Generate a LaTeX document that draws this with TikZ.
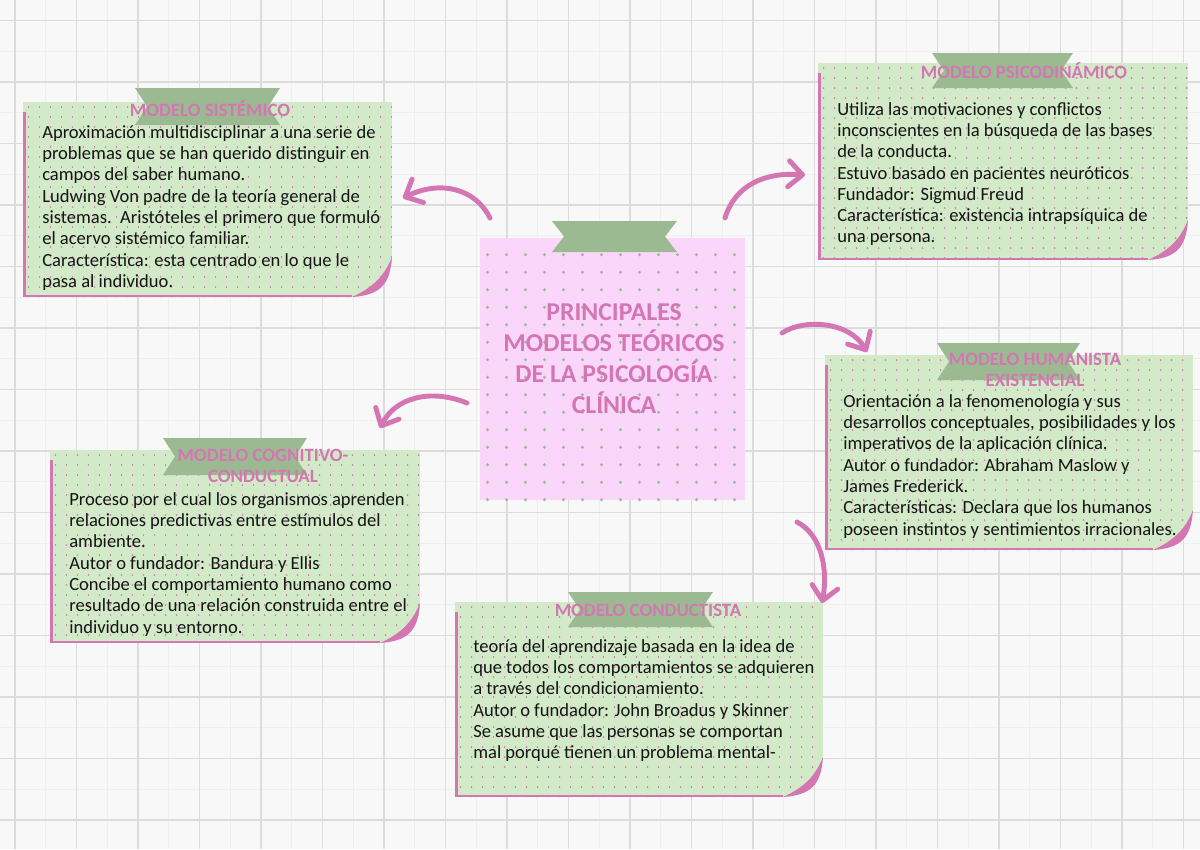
\documentclass[tikz,border=0pt]{standalone}
\usepackage{fontspec}
\setmainfont{Carlito}
\usetikzlibrary{arrows.meta,positioning,calc}
\definecolor{hojaverde}{RGB}{210,234,200}
\definecolor{cintaverde}{RGB}{156,186,146}
\definecolor{puntoverde}{RGB}{150,190,140}
\definecolor{rosa}{RGB}{212,118,180}
\definecolor{rosaclaro}{RGB}{250,214,250}
\definecolor{papel}{RGB}{248,248,248}
\definecolor{rejilla}{RGB}{220,220,220}
\definecolor{rejillafina}{RGB}{239,239,239}
\definecolor{tinta}{RGB}{20,20,20}

% dot grid: x1 y1 x2 y2 dx dy colour radius
\newcommand{\puntos}[8]{%
  \pgfmathsetmacro{\pxuno}{#1+#5/2}\pgfmathsetmacro{\pxdos}{#1+1.5*#5}%
  \pgfmathsetmacro{\pyuno}{#2+#6/2}\pgfmathsetmacro{\pydos}{#2+1.5*#6}%
  \foreach \ppx in {\pxuno,\pxdos,...,#3}
    \foreach \ppy in {\pyuno,\pydos,...,#4}
      \fill[#7] (\ppx,\ppy) circle[radius=#8];
}

% green sheet with pink edge and curled corner
\newcommand{\hoja}[4]{%
  \begin{scope}
    \clip (#1,#2) -- (#3,#2) -- (#3,{#4-40}) .. controls ({#3-2},{#4-12}) and ({#3-12},{#4-2}) .. ({#3-40},#4) -- (#1,#4) -- cycle;
    \fill[hojaverde] (#1,#2) rectangle (#3,#4);
    \puntos{#1}{#2}{#3}{#4}{11}{10}{rosa}{0.7pt}
  \end{scope}
  \fill[rosa] (#1,{#2+10}) rectangle ({#1+2.5},#4);
  \fill[rosa] (#1,{#4-2.5}) rectangle ({#3-40},#4);
  \fill[rosa] (#3,{#4-40}) .. controls ({#3-2},{#4-12}) and ({#3-12},{#4-2}) .. ({#3-40},#4)
     .. controls ({#3-20},{#4-9}) and ({#3-8},{#4-20}) .. cycle;
}

% ribbon with notched ends
\newcommand{\cinta}[4]{%
  \fill[cintaverde] (#1,#2) -- (#3,#2) -- ({#3-12},{(#2+#4)/2}) -- (#3,#4) -- (#1,#4) -- ({#1+12},{(#2+#4)/2}) -- cycle;
}

\begin{document}
\begin{tikzpicture}[x=0.025cm, y=-0.025cm,
    cuerpo/.style={inner sep=0pt, align=left, text=tinta, font=\fontsize{13.2}{15.15}\selectfont},
    titulo/.style={inner sep=0pt, align=center, text=rosa, font=\fontsize{13.4}{15.2}\selectfont\bfseries},
    principal/.style={inner sep=0pt, align=center, text=rosa, font=\fontsize{18.3}{22}\selectfont\bfseries},
    flecha/.style={draw=rosa, line width=3.5pt, line cap=round, -{Straight Barb[length=3.5mm,width=6.5mm,round]}}
]
\useasboundingbox (0,0) rectangle (1200,849);
\fill[papel] (0,0) rectangle (1200,849);

% squared paper
\foreach \gx in {45.75,107.25,...,1200} \draw[rejillafina, line width=0.5pt] (\gx,0) -- (\gx,849);
\foreach \gy in {51.25,112.75,...,849} \draw[rejillafina, line width=0.5pt] (0,\gy) -- (1200,\gy);
\foreach \gx in {15,76.5,...,1200} \draw[rejilla, line width=0.8pt] (\gx,0) -- (\gx,849);
\foreach \gy in {20.5,82,...,849} \draw[rejilla, line width=0.8pt] (0,\gy) -- (1200,\gy);

% central sheet
\fill[rosaclaro] (480,238) rectangle (745,500);
\puntos{478}{246}{745}{500}{19}{17.5}{puntoverde}{1.1pt}
\cinta{552}{221}{677}{252}
\node[principal] (centro) at (614,359) {PRINCIPALES\\MODELOS TEÓRICOS\\DE LA PSICOLOGÍA\\CLÍNICA};

% sistemico
\hoja{23}{102}{392}{297}
\cinta{135}{88}{280}{125}
\node[titulo] (sistemicoT) at (210,109) {MODELO SISTÉMICO};
\node[cuerpo, anchor=north west] (sistemico) at (42,125) {Aproximación multidisciplinar a una serie de\\
problemas que se han querido distinguir en\\
campos del saber humano.\\
Ludwing Von padre de la teoría general de\\
sistemas.\ \ Aristóteles el primero que formuló\\
el acervo sistémico familiar.\\
Característica: esta centrado en lo que le\\
pasa al individuo.};

% psicodinamico
\hoja{818}{63}{1188}{260}
\cinta{932}{53}{1073}{88}
\node[titulo] (psicodinamicoT) at (1024,71) {MODELO PSICODINÁMICO};
\node[cuerpo, anchor=north west] (psicodinamico) at (837,102) {Utiliza las motivaciones y conflictos\\
inconscientes en la búsqueda de las bases\\
de la conducta.\\
Estuvo basado en pacientes neuróticos\\
Fundador: Sigmud Freud\\
Característica: existencia intrapsíquica de\\
una persona.};

% humanista
\hoja{825}{355}{1193}{550}
\cinta{937}{343}{1080}{380}
\node[titulo] (humanistaT) at (1035,370) {MODELO HUMANISTA\\EXISTENCIAL};
\node[cuerpo, anchor=north west] (humanista) at (843,394) {Orientación a la fenomenología y sus\\
desarrollos conceptuales, posibilidades y los\\
imperativos de la aplicación clínica.\\
Autor o fundador: Abraham Maslow y\\
James Frederick.\\
Características: Declara que los humanos\\
poseen instintos y sentimientos irracionales.};

% cognitivo-conductual
\hoja{50}{450}{420}{643}
\cinta{163}{438}{307}{475}
\node[titulo] (cognitivoT) at (263,466) {MODELO COGNITIVO-\\CONDUCTUAL};
\node[cuerpo, anchor=north west] (cognitivo) at (69,492) {Proceso por el cual los organismos aprenden\\
relaciones predictivas entre estímulos del\\
ambiente.\\
Autor o fundador: Bandura y Ellis\\
Concibe el comportamiento humano como\\
resultado de una relación construida entre el\\
individuo y su entorno.};

% conductista
\hoja{455}{602}{823}{797}
\cinta{568}{592}{713}{627}
\node[titulo] (conductistaT) at (648,610) {MODELO CONDUCTISTA};
\node[cuerpo, anchor=north west] (conductista) at (473,639) {teoría del aprendizaje basada en la idea de\\
que todos los comportamientos se adquieren\\
a través del condicionamiento.\\
Autor o fundador: John Broadus y Skinner\\
Se asume que las personas se comportan\\
mal porqué tienen un problema mental-};

% arrows
\coordinate (sisIni) at (490,218);
\coordinate (sisFin) at (403,198);
\coordinate (psiIni) at (725,218);
\coordinate (psiFin) at (805,175);
\coordinate (humIni) at (782,333);
\coordinate (humFin) at (867,352);
\coordinate (cogIni) at (467,403);
\coordinate (cogFin) at (380,428);
\coordinate (conIni) at (797,522);
\coordinate (conFin) at (822,603);
\draw[flecha] (sisIni) .. controls (475,188) and (440,180) .. (sisFin);
\draw[flecha] (psiIni) .. controls (735,185) and (765,172) .. (psiFin);
\draw[flecha] (humIni) .. controls (805,318) and (850,322) .. (humFin);
\draw[flecha] (cogIni) .. controls (430,388) and (395,398) .. (cogFin);
\draw[flecha] (conIni) .. controls (822,535) and (828,570) .. (conFin);
\end{tikzpicture}
\end{document}
